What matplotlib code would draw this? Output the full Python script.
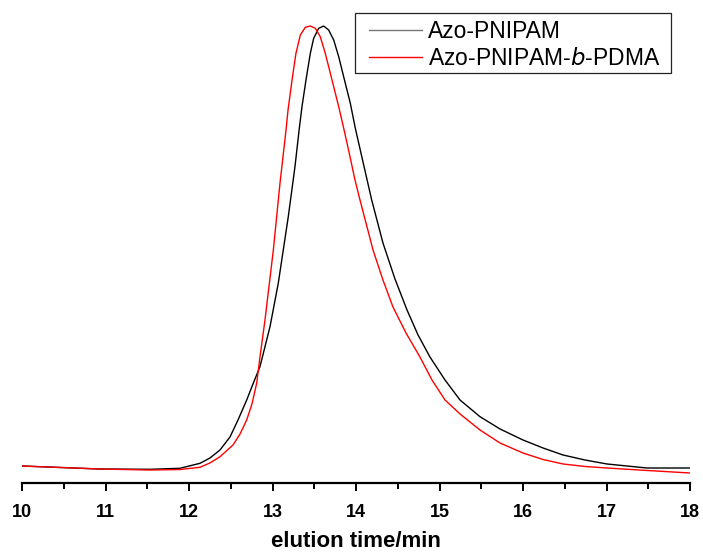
import matplotlib
matplotlib.use("Agg")
import matplotlib.pyplot as plt
from matplotlib.patches import Rectangle
from matplotlib.ticker import MultipleLocator

plt.rcParams["font.family"] = ["Liberation Sans", "DejaVu Sans"]

# elution curves (normalised detector signal)
t_pnipam = [10.000, 10.934, 11.533, 11.892, 12.132, 12.251, 12.371, 12.491, 12.587,
            12.691, 12.766, 12.850, 12.970, 13.069, 13.189, 13.269, 13.321, 13.353,
            13.401, 13.453, 13.493, 13.553, 13.613, 13.673, 13.733, 13.793, 13.872,
            13.932, 13.992, 14.084, 14.188, 14.323, 14.467, 14.611, 14.743, 14.886,
            15.066, 15.246, 15.485, 15.725, 16.000, 16.240, 16.479, 16.743, 17.006,
            17.485, 18.000]
s_pnipam = [0.0372, 0.0306, 0.0300, 0.0322, 0.0431, 0.0547, 0.0722, 0.1007, 0.1379,
            0.1816, 0.2166, 0.2545, 0.3420, 0.4370, 0.5827, 0.6921, 0.7761, 0.8234,
            0.8818, 0.9403, 0.9731, 0.9950, 1.0000, 0.9912, 0.9694, 0.9328, 0.8746,
            0.8309, 0.7761, 0.7024, 0.6193, 0.5252, 0.4464, 0.3786, 0.3239, 0.2757,
            0.2254, 0.1816, 0.1451, 0.1182, 0.0941, 0.0766, 0.0613, 0.0503, 0.0416,
            0.0328, 0.0328]

t_block = [10.000, 10.934, 11.533, 11.892, 12.132, 12.251, 12.371, 12.527, 12.611,
           12.691, 12.754, 12.811, 12.850, 12.910, 13.010, 13.090, 13.162, 13.186,
           13.234, 13.281, 13.333, 13.393, 13.453, 13.513, 13.572, 13.632, 13.713,
           13.793, 13.853, 13.916, 13.988, 14.048, 14.204, 14.323, 14.443, 14.599,
           14.766, 14.910, 15.066, 15.246, 15.485, 15.725, 16.000, 16.240, 16.479,
           16.743, 17.006, 17.485, 18.000]
s_block = [0.0372, 0.0306, 0.0284, 0.0295, 0.0344, 0.0438, 0.0575, 0.0832, 0.1072,
           0.1379, 0.1729, 0.2188, 0.2757, 0.3567, 0.5098, 0.6565, 0.7724, 0.8162,
           0.8818, 0.9403, 0.9803, 0.9972, 1.0000, 0.9950, 0.9766, 0.9403, 0.8818,
           0.8234, 0.7761, 0.7243, 0.6630, 0.6193, 0.5098, 0.4442, 0.3851, 0.3282,
           0.2757, 0.2254, 0.1816, 0.1510, 0.1160, 0.0875, 0.0656, 0.0514, 0.0416,
           0.0361, 0.0328, 0.0274, 0.0219]

labels = ["Azo-PNIPAM", "Azo-PNIPAM-$\\mathit{b}$-PDMA"]

W, H = 703, 553
fig = plt.figure(figsize=(W / 100, H / 100), dpi=100)
ax = fig.add_axes([22 / W, 1 - 483 / H, 668 / W, 478 / H])

ax.plot(t_pnipam, s_pnipam, color="black", lw=1.0, label=labels[0])
ax.plot(t_block, s_block, color="red", lw=1.0, label=labels[1])

ax.set_xlim(10, 18)
ax.set_ylim(0, 1.046)
for side in ("left", "top", "right"):
    ax.spines[side].set_visible(False)
ax.spines["bottom"].set_linewidth(1.6)
ax.set_yticks([])
ax.xaxis.set_major_locator(MultipleLocator(1))
ax.xaxis.set_minor_locator(MultipleLocator(0.5))
ax.tick_params(axis="x", which="major", direction="out", length=6, width=1.4,
               labelsize=13, pad=9)
ax.tick_params(axis="x", which="minor", direction="out", length=4, width=1.4)
for lab in ax.get_xticklabels():
    lab.set_fontweight("bold")
ax.set_xlabel("elution time/min", fontsize=16, fontweight="bold", labelpad=7)

# legend without its own frame, box drawn separately to match the reference padding
leg = ax.legend(loc="upper left", bbox_to_anchor=(369 / W, 1 - 20.4 / H),
                bbox_transform=fig.transFigure, fontsize=16.5, frameon=False,
                handlelength=2.31, handletextpad=0.26, labelspacing=0.17,
                borderpad=0, borderaxespad=0)
leg.get_lines()[0].set_color("#777777")
fig.patches.append(Rectangle((355 / W, 1 - 73 / H), 316 / W, 60.3 / H,
                             transform=fig.transFigure, fill=False,
                             edgecolor="#222222", lw=0.9))

fig.savefig("out.png", dpi=100)
